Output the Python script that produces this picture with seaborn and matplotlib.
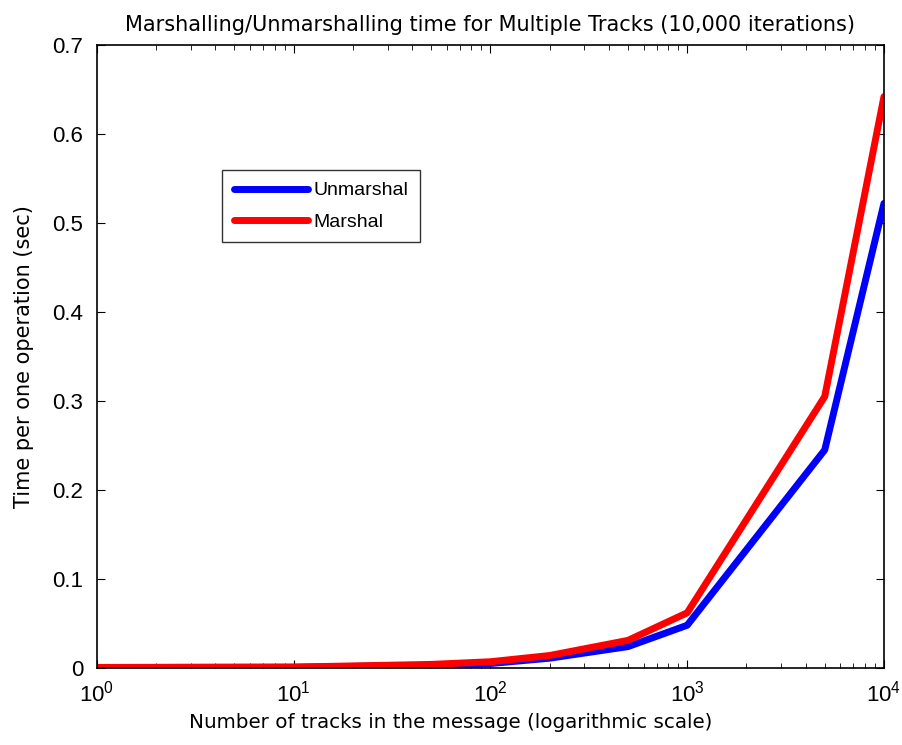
import matplotlib
matplotlib.use("Agg")
import matplotlib.pyplot as plt
import seaborn as sns
import pandas as pd
import numpy as np
from matplotlib.ticker import LogLocator, FixedLocator

tracks = [1, 10, 50, 100, 200, 500, 1000, 5000, 10000]
unmarshal = [0.0005, 0.0008, 0.003, 0.005, 0.011, 0.024, 0.048, 0.245, 0.522]
marshal = [0.0006, 0.001, 0.004, 0.007, 0.014, 0.031, 0.062, 0.305, 0.642]
series_names = ["Unmarshal", "Marshal"]
y_ticks = [0, 0.1, 0.2, 0.3, 0.4, 0.5, 0.6, 0.7]
y_tick_labels = ["0", "0.1", "0.2", "0.3", "0.4", "0.5", "0.6", "0.7"]

df = pd.DataFrame({
    "tracks": tracks * 2,
    "time": unmarshal + marshal,
    "series": [series_names[0]] * len(tracks) + [series_names[1]] * len(tracks),
})

sns.set_style("ticks")
plt.rcParams["font.family"] = ["Liberation Sans", "DejaVu Sans"]
plt.rcParams["text.color"] = "black"
plt.rcParams["axes.labelcolor"] = "black"

fig = plt.figure(figsize=(9.02, 7.45), dpi=100)
ax = fig.add_axes([0.1075, 0.1034, 0.8725, 0.8362])

sns.lineplot(data=df, x="tracks", y="time", hue="series",
             palette={"Unmarshal": "#0000ff", "Marshal": "#ff0000"},
             linewidth=5, ax=ax, legend=True)

ax.set_xscale("log")
ax.set_xlim(1, 10000)
ax.set_ylim(0, 0.7)
ax.yaxis.set_major_locator(FixedLocator(y_ticks))
ax.set_yticklabels(y_tick_labels)
ax.xaxis.set_major_locator(LogLocator(base=10, numticks=10))
ax.xaxis.set_minor_locator(LogLocator(base=10, subs=np.arange(2, 10), numticks=20))

for s in ax.spines.values():
    s.set_visible(True)
    s.set_color("black")
    s.set_linewidth(1.2)

ax.tick_params(axis="both", which="both", direction="in", top=True, right=True,
               labelsize=16, colors="black")
ax.tick_params(which="major", length=6)
ax.tick_params(which="minor", length=3.5)
ax.tick_params(axis="x", pad=9)
ax.tick_params(axis="y", pad=10)

lab_font = {"family": ["DejaVu Sans"], "size": 15, "color": "black"}
xlab_font = {"family": ["DejaVu Sans"], "size": 14.3, "color": "black"}
ax.set_xlabel("Number of tracks in the message (logarithmic scale)", fontdict=xlab_font)
ax.xaxis.set_label_coords(0.449, -0.073)
ax.set_ylabel("Time per one operation (sec)", fontdict=lab_font, labelpad=13)
ax.set_title("Marshalling/Unmarshalling time for Multiple Tracks (10,000 iterations)",
             fontdict=lab_font, pad=10)

leg = ax.legend(loc="upper left", bbox_to_anchor=(0.159, 0.799), fontsize=14,
                frameon=True, fancybox=False, edgecolor="black", handlelength=3.8,
                borderpad=0.6, labelspacing=0.7, handletextpad=0.3, borderaxespad=0)
leg.get_frame().set_linewidth(1.0)
for line in leg.get_lines():
    line.set_linewidth(5)

fig.savefig("out.png", dpi=100)
